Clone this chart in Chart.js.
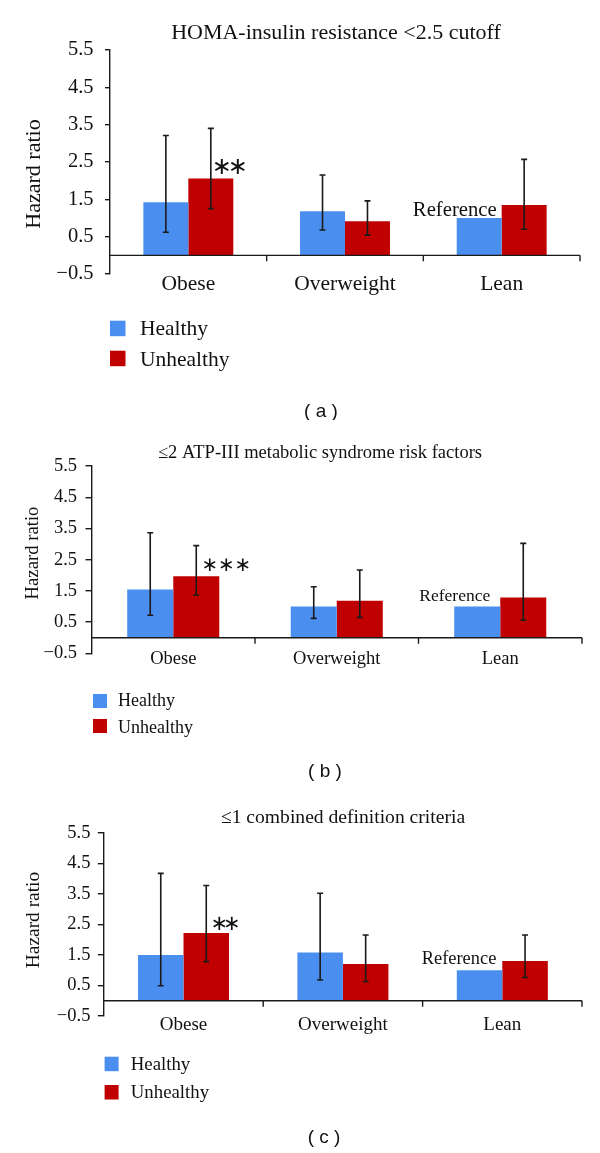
<!DOCTYPE html>
<html><head><meta charset="utf-8">
<script src="https://cdn.jsdelivr.net/npm/chart.js@4.4.1/dist/chart.umd.min.js"></script>
<style>
html,body{margin:0;padding:0;background:#fff;}
body{width:600px;height:1153px;position:relative;overflow:hidden;}
.pan{position:absolute;left:0;width:600px;}
canvas{display:block;}
</style></head><body>
<div class="pan" style="top:0;height:420px"><canvas id="ca" width="600" height="420"></canvas></div>
<div class="pan" style="top:420px;height:370px"><canvas id="cb" width="600" height="370"></canvas></div>
<div class="pan" style="top:790px;height:363px"><canvas id="cc" width="600" height="363"></canvas></div>
<script>
// ---------------- data ----------------
const categories = ["Obese", "Overweight", "Lean"];
const seriesNames = ["Healthy", "Unhealthy"];
const yMin = -0.5, yMax = 5.5, yStep = 1;
const yAxisTitle = "Hazard ratio";
const referenceLabel = "Reference";
const referenceIndex = 2;

// (a) HOMA-insulin resistance
const aTitle = "HOMA-insulin resistance <2.5 cutoff";
const aHealthy      = [1.42, 1.18, 1.00];
const aHealthyLow   = [0.62, 0.68, null];
const aHealthyHigh  = [3.21, 2.15, null];
const aUnhealthy     = [2.06, 0.91, 1.35];
const aUnhealthyLow  = [1.25, 0.54, 0.70];
const aUnhealthyHigh = [3.40, 1.46, 2.57];
const aSignif = ["**", "", ""];

// (b) ATP-III
const bTitle = "\u22642 ATP-III metabolic syndrome risk factors";
const bHealthy      = [1.54, 1.00, 1.00];
const bHealthyLow   = [0.72, 0.62, null];
const bHealthyHigh  = [3.36, 1.63, null];
const bUnhealthy     = [1.97, 1.18, 1.29];
const bUnhealthyLow  = [1.36, 0.65, 0.56];
const bUnhealthyHigh = [2.95, 2.17, 3.02];
const bSignif = ["***", "", ""];

// (c) combined definition
const cTitle = "\u22641 combined definition criteria";
const cHealthy      = [1.50, 1.58, 1.00];
const cHealthyLow   = [0.49, 0.68, null];
const cHealthyHigh  = [4.17, 3.52, null];
const cUnhealthy     = [2.22, 1.20, 1.30];
const cUnhealthyLow  = [1.28, 0.63, 0.76];
const cUnhealthyHigh = [3.77, 2.15, 2.15];
const cSignif = ["**", "", ""];

// ---------------- styles ----------------
const BLUE = "#4a8ff0", RED = "#c00000", AXIS = "#1a1a1a", TXT = "#111";
const SERIF = "'Liberation Serif','Times New Roman',serif";
const SANS = "'Liberation Sans',Arial,sans-serif";
const AST = "'DejaVu Sans',sans-serif";

function fmt(v){ const s = Number(v).toFixed(1); return s.replace('-', '\u2212'); }

const panelPlugin = {
  id: 'panel',
  afterDatasetsDraw(chart, args, o) {
    const ctx = chart.ctx, xs = chart.scales.x, ys = chart.scales.y, ca = chart.chartArea;
    ctx.save();
    // zero axis line + category separators
    const y0 = ys.getPixelForValue(0);
    ctx.strokeStyle = AXIS; ctx.lineWidth = 1.4;
    ctx.beginPath(); ctx.moveTo(ca.left, y0); ctx.lineTo(ca.right, y0);
    const n = chart.data.labels.length;
    for (let i = 0; i < n; i++) {
      const xb = i < n - 1 ? (xs.getPixelForValue(i) + xs.getPixelForValue(i + 1)) / 2 : ca.right;
      ctx.moveTo(xb, y0); ctx.lineTo(xb, y0 + 6);
    }
    ctx.stroke();
    // category labels (positioned by the category scale)
    ctx.fillStyle = TXT;
    ctx.font = o.xFont + "px " + SERIF;
    ctx.textAlign = 'center'; ctx.textBaseline = 'alphabetic';
    chart.data.labels.forEach((lab, i) => {
      ctx.fillText(lab, xs.getPixelForValue(i), ca.bottom + o.xBase);
    });
    // error bars
    ctx.strokeStyle = AXIS; ctx.lineWidth = 1.6;
    o.errors.forEach((err, d) => {
      const meta = chart.getDatasetMeta(d);
      meta.data.forEach((el, i) => {
        if (err.low[i] == null) return;
        const yl = ys.getPixelForValue(err.low[i]), yh = ys.getPixelForValue(err.high[i]);
        ctx.beginPath();
        ctx.moveTo(el.x, yl); ctx.lineTo(el.x, yh);
        ctx.moveTo(el.x - 3, yl); ctx.lineTo(el.x + 3, yl);
        ctx.moveTo(el.x - 3, yh); ctx.lineTo(el.x + 3, yh);
        ctx.stroke();
      });
    });
    // significance marks
    ctx.fillStyle = TXT;
    ctx.font = o.sigFont + "px " + AST;
    ctx.textAlign = 'center'; ctx.textBaseline = 'middle';
    const um = chart.getDatasetMeta(1);
    o.signif.forEach((s, i) => {
      if (!s) return;
      const el = um.data[i];
      for (let k = 0; k < s.length; k++) {
        ctx.fillText("\u2217", el.x + o.sigDx + k * o.sigStep, el.y - o.sigDy);
      }
    });
    // reference label
    const hb = chart.getDatasetMeta(0).data[referenceIndex];
    const ub = um.data[referenceIndex];
    ctx.font = o.refFont + "px " + SERIF;
    ctx.textAlign = 'right'; ctx.textBaseline = 'alphabetic';
    ctx.fillText(referenceLabel, ub.x - ub.width / 2 + o.refDx, hb.y + o.refDy);
    ctx.restore();
  },
  afterDraw(chart, args, o) {
    const ctx = chart.ctx;
    ctx.save();
    ctx.fillStyle = TXT;
    ctx.textBaseline = 'alphabetic';
    // title
    ctx.font = o.titleFont + "px " + SERIF; ctx.textAlign = 'center';
    ctx.fillText(o.title, o.titleX, o.titleY);
    // y axis title
    ctx.save();
    ctx.translate(o.yTitleX, o.yTitleY); ctx.rotate(-Math.PI / 2);
    ctx.font = o.yTitleFont + "px " + SERIF; ctx.textAlign = 'center';
    ctx.fillText(yAxisTitle, 0, 0);
    ctx.restore();
    // legend
    chart.data.datasets.forEach((ds, d) => {
      ctx.fillStyle = ds.backgroundColor;
      ctx.fillRect(o.legX, o.legTop[d], o.legW, o.legH);
      ctx.fillStyle = TXT;
      ctx.font = o.legFont + "px " + SERIF; ctx.textAlign = 'left';
      ctx.fillText(ds.label, o.legTextX, o.legBase[d]);
    });
    // panel label
    ctx.font = o.labFont + "px " + SANS; ctx.textAlign = 'center';
    ctx.fillText(o.lab, o.labX, o.labY);
    ctx.restore();
  }
};

function makePanel(id, title, lab, h, hl, hh, u, ul, uh, sig, L) {
  return new Chart(document.getElementById(id), {
    type: 'bar',
    data: {
      labels: categories,
      datasets: [
        { label: seriesNames[0], data: h, backgroundColor: BLUE, borderWidth: 0, categoryPercentage: L.cat, barPercentage: 1 },
        { label: seriesNames[1], data: u, backgroundColor: RED, borderWidth: 0, categoryPercentage: L.cat, barPercentage: 1 }
      ]
    },
    options: {
      responsive: false, animation: false, devicePixelRatio: 1,
      layout: { padding: { left: 0, right: L.padR, top: L.padT, bottom: L.padB } },
      plugins: {
        legend: { display: false }, tooltip: { enabled: false }, title: { display: false },
        panel: Object.assign({
          title: title, lab: lab,
          errors: [{ low: hl, high: hh }, { low: ul, high: uh }],
          signif: sig
        }, L.p)
      },
      scales: {
        x: {
          grid: { display: false, drawTicks: false }, border: { display: false },
          ticks: { display: false },
          afterFit: s => { s.height = L.xH; }
        },
        y: {
          min: yMin, max: yMax,
          ticks: { stepSize: yStep, font: { family: SERIF, size: L.yFont }, color: TXT, padding: L.yPad, callback: v => fmt(v) },
          grid: { drawOnChartArea: false, drawTicks: true, tickLength: L.tl, color: AXIS, lineWidth: 1.4 },
          border: { display: true, color: AXIS, width: 1.4 },
          afterFit: s => { s.width = L.yW; }
        }
      }
    },
    plugins: [panelPlugin]
  });
}

makePanel('ca', aTitle, "( a )", aHealthy, aHealthyLow, aHealthyHigh, aUnhealthy, aUnhealthyLow, aUnhealthyHigh, aSignif, {
  cat: 0.574, yW: 110, padR: 20, padT: 50, padB: 116, xH: 30,
  yFont: 20.5, yPad: 11.5, tl: 5,
  p: { xFont: 21.5, xBase: 16,
       titleFont: 22, titleX: 336, titleY: 39,
       yTitleFont: 22, yTitleX: 40, yTitleY: 174,
       legX: 110, legW: 15.5, legH: 15.5, legTop: [320.7, 350.7], legTextX: 140, legBase: [335, 366], legFont: 21.5,
       labFont: 19, labX: 321, labY: 416.5,
       refFont: 20.7, refDx: -5, refDy: -2,
       sigFont: 24, sigDx: 11, sigStep: 16, sigDy: 11 }
});

makePanel('cb', bTitle, "( b )", bHealthy, bHealthyLow, bHealthyHigh, bUnhealthy, bUnhealthyLow, bUnhealthyHigh, bSignif, {
  cat: 0.563, yW: 91.5, padR: 18, padT: 46, padB: 106.7, xH: 30,
  yFont: 18.5, yPad: 8.5, tl: 6,
  p: { xFont: 18.5, xBase: 10.5,
       titleFont: 18.5, titleX: 320, titleY: 38.3,
       yTitleFont: 18.7, yTitleX: 37.7, yTitleY: 133,
       legX: 93, legW: 14, legH: 14, legTop: [274, 299], legTextX: 118, legBase: [286, 312.5], legFont: 18,
       labFont: 19, labX: 325, labY: 357,
       refFont: 17.5, refDx: -10, refDy: -5,
       sigFont: 20, sigDx: 13.5, sigStep: 16.5, sigDy: 10 }
});

makePanel('cc', cTitle, "( c )", cHealthy, cHealthyLow, cHealthyHigh, cUnhealthy, cUnhealthyLow, cUnhealthyHigh, cSignif, {
  cat: 0.571, yW: 103.8, padR: 18, padT: 42.7, padB: 107, xH: 30,
  yFont: 18.5, yPad: 7.4, tl: 6,
  p: { xFont: 19, xBase: 14,
       titleFont: 19.6, titleX: 343, titleY: 33,
       yTitleFont: 19.4, yTitleX: 38.5, yTitleY: 130,
       legX: 104.6, legW: 14, legH: 14.5, legTop: [266.7, 295], legTextX: 130.8, legBase: [280, 308], legFont: 18.8,
       labFont: 19, labX: 324, labY: 353,
       refFont: 18.4, refDx: -6, refDy: -6,
       sigFont: 21, sigDx: 13, sigStep: 12.5, sigDy: 8 }
});
</script>
</body></html>
